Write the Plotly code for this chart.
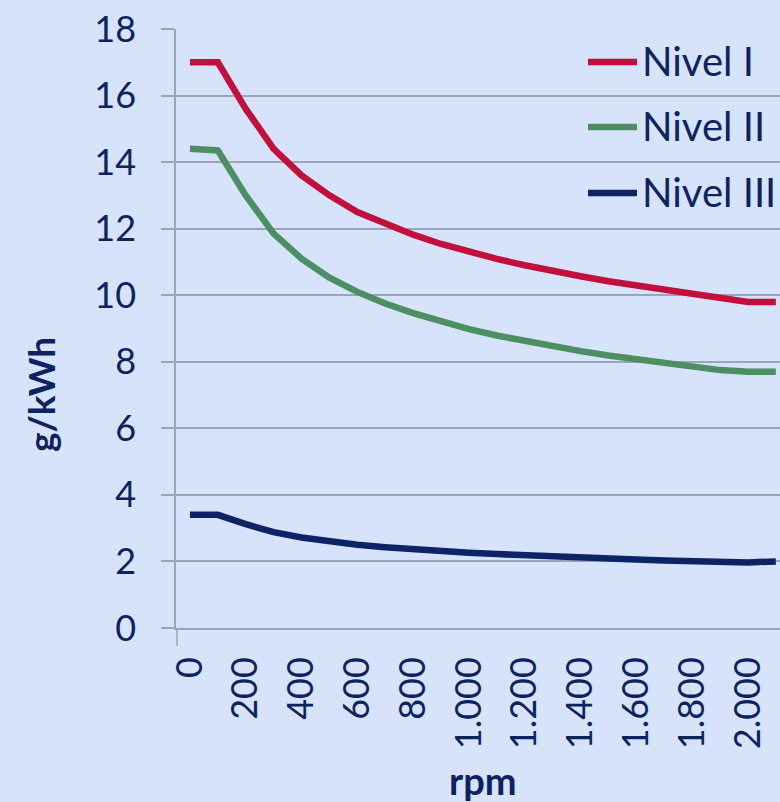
import plotly.graph_objects as go

# ---- data ----
rpm = [0, 100, 200, 300, 400, 500, 600, 700, 800, 900, 1000,
       1100, 1200, 1300, 1400, 1500, 1600, 1700, 1800, 1900, 2000, 2100]
nivel_1 = [17.0, 17.0, 15.6, 14.4, 13.6, 13.0, 12.5, 12.15, 11.82, 11.54, 11.3,
           11.09, 10.9, 10.72, 10.57, 10.42, 10.29, 10.17, 10.05, 9.94, 9.8, 9.8]
nivel_2 = [14.4, 14.35, 13.0, 11.85, 11.1, 10.53, 10.1, 9.75, 9.46, 9.2, 8.98,
           8.79, 8.62, 8.46, 8.32, 8.19, 8.07, 7.95, 7.85, 7.75, 7.7, 7.7]
nivel_3 = [3.4, 3.4, 3.12, 2.88, 2.72, 2.6, 2.5, 2.43, 2.36, 2.31, 2.26,
           2.22, 2.18, 2.14, 2.11, 2.08, 2.06, 2.03, 2.01, 1.99, 1.97, 2.0]
series_names = ["Nivel I", "Nivel II", "Nivel III"]
x_tick_vals = [0, 200, 400, 600, 800, 1000, 1200, 1400, 1600, 1800, 2000]
x_tick_text = ["0", "200", "400", "600", "800", "1.000", "1.200", "1.400",
               "1.600", "1.800", "2.000"]
y_tick_vals = [0, 2, 4, 6, 8, 10, 12, 14, 16, 18]

colors = ["#c20f3c", "#4b8f63", "#0c2466"]
text_color = "#0d2260"
grid_color = "#9ba4b8"
bg = "#d6e3fa"
FONT = "Lato"

W, H = 780, 802
L, R, T, B = 176, 0, 29, 174
PW, PH = W - L - R, H - T - B


def px(x):
    return (x - L) / PW


def py(y):
    return (H - B - y) / PH


fig = go.Figure()
for name, vals, c in zip(series_names, [nivel_1, nivel_2, nivel_3], colors):
    fig.add_trace(go.Scatter(x=rpm, y=vals, mode="lines", name=name,
                             line=dict(color=c, width=6.5), showlegend=False,
                             cliponaxis=False))

shapes = []
annotations = []
# manual legend
leg_y = [62, 127, 193]
for name, c, yy in zip(series_names, colors, leg_y):
    shapes.append(dict(type="line", xref="paper", yref="paper",
                       x0=px(588), x1=px(637), y0=py(yy), y1=py(yy),
                       line=dict(color=c, width=6.5)))
    annotations.append(dict(text=name, xref="paper", yref="paper",
                            x=px(640), y=py(yy - 1), xanchor="left",
                            yanchor="middle", showarrow=False,
                            font=dict(family=FONT, size=40, color=text_color)))

# small tick below the axis crossing
shapes.append(dict(type="line", xref="paper", yref="paper",
                   x0=px(177), x1=px(177), y0=py(628), y1=py(646),
                   line=dict(color=grid_color, width=1.5)))

annotations.append(dict(text="<b>g/kWh</b>", xref="paper", yref="paper",
                        x=px(40), y=py(395), textangle=-90, showarrow=False,
                        xanchor="center", yanchor="middle",
                        font=dict(family=FONT, size=37, color=text_color)))
annotations.append(dict(text="<b>rpm</b>", xref="paper", yref="paper",
                        x=px(483), y=py(780), showarrow=False,
                        xanchor="center", yanchor="middle",
                        font=dict(family=FONT, size=38, color=text_color)))

fig.update_layout(
    width=W, height=H,
    margin=dict(l=L, r=R, t=T, b=B, pad=0),
    paper_bgcolor=bg, plot_bgcolor=bg,
    font=dict(family=FONT, color=text_color),
    shapes=shapes, annotations=annotations,
    showlegend=False,
)
fig.update_xaxes(range=[-50, 2115], tickvals=x_tick_vals, ticktext=x_tick_text,
                 tickangle=-90, ticks="", showgrid=False, zeroline=False,
                 showline=True, linecolor=grid_color, linewidth=1.5,
                 ticklabelstandoff=13,
                 tickfont=dict(family=FONT, size=36, color=text_color))
fig.update_yaxes(range=[0, 18], tickvals=y_tick_vals, showgrid=True,
                 gridcolor=grid_color, gridwidth=1.5, zeroline=False,
                 showline=True, linecolor=grid_color, linewidth=1.5,
                 ticks="outside", ticklen=13, tickcolor=grid_color, tickwidth=1.5,
                 ticklabelstandoff=18,
                 tickfont=dict(family=FONT, size=36, color=text_color))

fig.write_html(
    "out.html",
    config={"displayModeBar": False},
    post_script="document.body.style.margin='0';document.body.style.overflow='hidden';",
)
